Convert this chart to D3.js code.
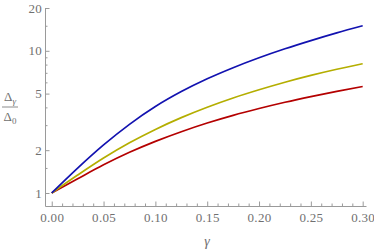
<!DOCTYPE html>
<html lang="en">
<head>
    <meta charset="UTF-8">
    <title>Gap ratio</title>
    <script src="https://d3js.org/d3.v7.min.js"></script>
    <style>
        body { margin: 0; background: #fff; }
        .axis path, .axis line { stroke: #9a9a9a; }
        .curve { fill: none; stroke-width: 1.7px; }
    </style>
</head>
<body>
    <script>
        // values
        var gamma = [0, 0.025, 0.05, 0.075, 0.1, 0.125, 0.15, 0.175, 0.2, 0.225, 0.25, 0.275, 0.3];
        var blue = [1, 1.496, 2.178, 3.041, 4.055, 5.164, 6.353, 7.603, 8.93, 10.33, 11.80, 13.37, 15.0];
        var yellow = [1, 1.337, 1.762, 2.254, 2.799, 3.388, 4.009, 4.656, 5.321, 6.012, 6.714, 7.413, 8.11];
        var red = [1, 1.259, 1.578, 1.932, 2.307, 2.698, 3.105, 3.516, 3.926, 4.345, 4.764, 5.188, 5.61];

        var xTicks = [0, 0.05, 0.1, 0.15, 0.2, 0.25, 0.3];
        var xMinor = d3.range(0, 31).map(d => d / 100).filter(d => Math.round(d * 100) % 5 != 0);
        var yTicks = [1, 2, 5, 10, 20];
        var yMinor = [1.5, 3, 4, 6, 7, 8, 9, 15];

        var serif = "'Liberation Serif', 'Times New Roman', Tinos, 'DejaVu Serif', serif";
        var grey = "#707070";

        var width = 374, height = 252;

        var svg = d3.select("body").append("svg")
            .attr("width", width)
            .attr("height", height);

        var x = d3.scaleLinear().domain([-0.0065, 0.3032]).range([45, 366]);
        var y = d3.scaleLog().domain([0.81, 20]).range([206, 8]);

        // minor ticks
        svg.append("g").attr("class", "axis")
            .attr("transform", "translate(0,206)")
            .call(d3.axisBottom(x).tickValues(xMinor).tickFormat("").tickSizeInner(-2.5).tickSizeOuter(0))
            .select(".domain").remove();
        svg.append("g").attr("class", "axis")
            .attr("transform", "translate(45,0)")
            .call(d3.axisLeft(y).tickValues(yMinor).tickFormat("").tickSizeInner(-2.5).tickSizeOuter(0))
            .select(".domain").remove();

        // major ticks
        var gx = svg.append("g").attr("class", "axis")
            .attr("transform", "translate(0,206)")
            .call(d3.axisBottom(x).tickValues(xTicks).tickFormat(d3.format(".2f")).tickSizeInner(-4.5).tickSizeOuter(0).tickPadding(7));
        var gy = svg.append("g").attr("class", "axis")
            .attr("transform", "translate(45,0)")
            .call(d3.axisLeft(y).tickValues(yTicks).tickFormat(d3.format("d")).tickSizeInner(-4.5).tickSizeOuter(0).tickPadding(3));

        [gx, gy].forEach(function(g) {
            g.attr("font-family", serif).attr("font-size", 13);
            g.selectAll("text")
                .style("font-family", serif)
                .style("font-size", "13px")
                .style("letter-spacing", "0.3px")
                .attr("fill", grey);
        });

        var line = d3.line()
            .x((d, i) => x(gamma[i]))
            .y(d => y(d))
            .curve(d3.curveMonotoneX);

        [[red, "#b40000"], [yellow, "#b4ae00"], [blue, "#1212b0"]].forEach(function(s) {
            svg.append("path")
                .attr("class", "curve")
                .attr("stroke", s[1])
                .attr("d", line(s[0]));
        });

        // axis labels
        svg.append("text")
            .attr("x", 207).attr("y", 246)
            .attr("text-anchor", "middle")
            .attr("fill", grey)
            .style("font-family", serif)
            .style("font-size", "14px").style("font-style", "italic")
            .text("γ");

        var fr = svg.append("g").attr("fill", grey).style("font-family", serif);
        var num = fr.append("text").attr("x", 10).attr("y", 101).attr("text-anchor", "middle").style("font-size", "13px");
        num.append("tspan").text("Δ");
        num.append("tspan").attr("dy", 3).style("font-size", "9px").style("font-style", "italic").text("γ");
        var den = fr.append("text").attr("x", 10).attr("y", 121).attr("text-anchor", "middle").style("font-size", "13px");
        den.append("tspan").text("Δ");
        den.append("tspan").attr("dy", 3).style("font-size", "9px").text("0");
        fr.append("line")
            .attr("x1", 2).attr("x2", 18).attr("y1", 107).attr("y2", 107)
            .attr("stroke", grey).attr("stroke-width", 0.8);
    </script>
</body>
</html>
